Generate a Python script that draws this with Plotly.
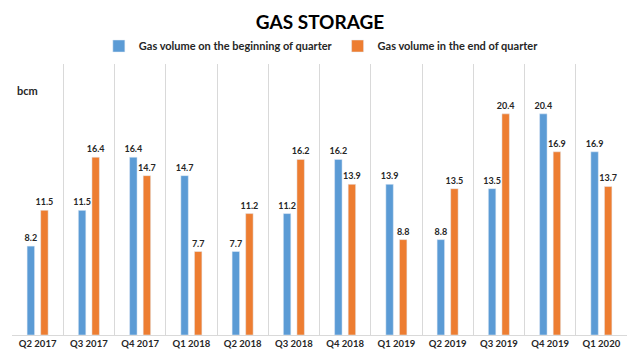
import plotly.graph_objects as go

quarters = ["Q2 2017", "Q3 2017", "Q4 2017", "Q1 2018", "Q2 2018", "Q3 2018",
            "Q4 2018", "Q1 2019", "Q2 2019", "Q3 2019", "Q4 2019", "Q1 2020"]
begin_vals = [8.2, 11.5, 16.4, 14.7, 7.7, 11.2, 16.2, 13.9, 8.8, 13.5, 20.4, 16.9]
end_vals = [11.5, 16.4, 14.7, 7.7, 11.2, 16.2, 13.9, 8.8, 13.5, 20.4, 16.9, 13.7]

FONT = "Lato"
TXT = "#262626"

fig = go.Figure()
for name, vals, col in [("Gas volume on the beginning of quarter", begin_vals, "#5B9BD5"),
                        ("Gas volume in the end of quarter", end_vals, "#ED7D31")]:
    fig.add_trace(go.Bar(
        x=quarters, y=vals, name=name,
        marker_color=col, text=[f"{v:.1f}" for v in vals],
        textposition="outside", constraintext="none",
        textfont=dict(family=FONT, size=9, color=TXT, weight="bold"),
        cliponaxis=False,
    ))

fig.update_layout(
    width=640, height=360,
    margin=dict(l=12, r=13, t=64, b=25, autoexpand=False),
    paper_bgcolor="white", plot_bgcolor="white",
    barmode="group", bargap=0.47, bargroupgap=0.45,
    title=dict(text="<b>GAS STORAGE</b>", x=0.5, xanchor="center", y=1 - 22 / 360,
               yanchor="middle", font=dict(family=FONT, size=19, color="#000000")),
    legend=dict(orientation="h", x=0.503, xanchor="center", y=1 + 18 / 271, yanchor="middle",
                font=dict(family=FONT, size=11, color=TXT, weight="bold"),
                itemwidth=30, traceorder="normal"),
    showlegend=True,
    font=dict(family=FONT, color=TXT),
)
fig.update_xaxes(
    type="category", tickson="boundaries", showgrid=True, gridcolor="#D9D9D9", gridwidth=1,
    showline=True, linecolor="#D9D9D9", ticks="", automargin=False,
    tickfont=dict(family=FONT, size=9.5, color=TXT, weight="bold"),
    zeroline=False,
)
fig.update_yaxes(range=[0, 25], visible=False, showgrid=False, automargin=False)

fig.add_annotation(text="<b>bcm</b>", xref="paper", yref="paper", x=3 / 615, y=(335 - 90) / 271,
                   xanchor="left", yanchor="middle", showarrow=False,
                   font=dict(family=FONT, size=11, color=TXT))

fig.write_html("out.html", config={"displayModeBar": False},
               post_script="document.body.style.margin='0';")
